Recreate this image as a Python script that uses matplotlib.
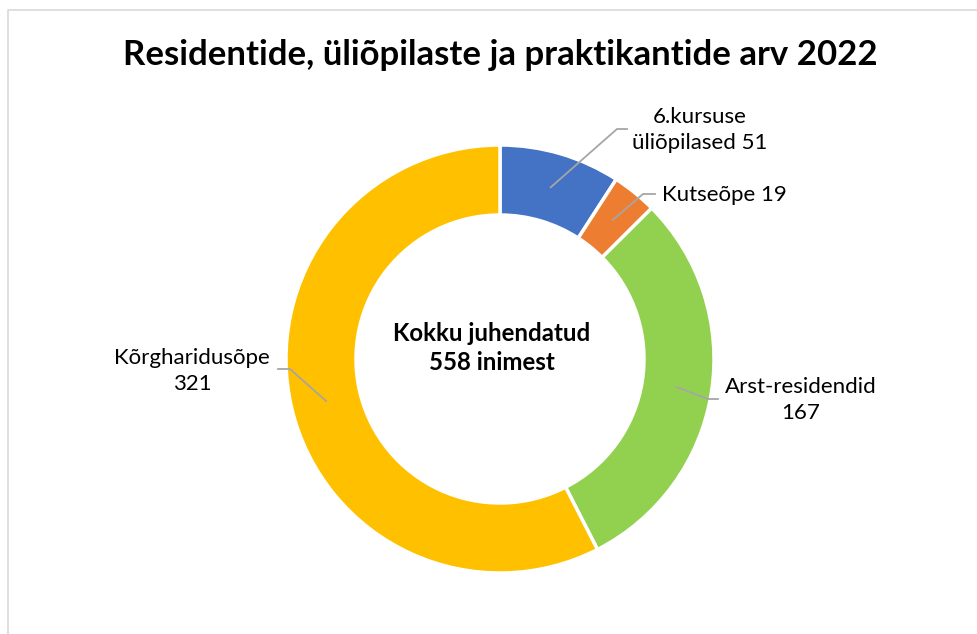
import numpy as np
import matplotlib.pyplot as plt
from matplotlib.lines import Line2D

plt.rcParams['font.family'] = ['Lato', 'DejaVu Sans']

labels = ['6.kursuse\nüliõpilased 51', 'Kutseõpe 19', 'Arst-residendid\n167', 'Kõrgharidusõpe\n321']
values = [51, 19, 167, 321]
colors = ['#4472C4', '#ED7D31', '#92D050', '#FFC000']
title = 'Residentide, üliõpilaste ja praktikantide arv 2022'
center_text = 'Kokku juhendatud\n558 inimest'

W, H = 977, 634
fig = plt.figure(figsize=(W / 100, H / 100), dpi=100)
ax = fig.add_axes([0, 0, 1, 1])

cx, cy = 500, H - 359
R = 214
width = 70

wedges, _ = ax.pie(values, colors=colors, startangle=90, counterclock=False,
                   center=(cx, cy), radius=R, frame=True,
                   wedgeprops=dict(width=width, edgecolor='white', linewidth=2.5))
ax.set_xlim(0, W)
ax.set_ylim(0, H)
ax.set_aspect('equal')
ax.axis('off')

# label text positions (pixel coords from top) and leader elbow points
text_pos = [(700, 130), (724, 195), (801, 400), (192, 371)]
elbows = [((617, 129), (627, 129)), ((643, 194), (655, 194)),
          ((708, 399), (718, 399)), ((290, 369), (278, 369))]

rmid = R - width / 2
for w, lab, (tx, ty), (e1, e2) in zip(wedges, labels, text_pos, elbows):
    ang = np.deg2rad((w.theta1 + w.theta2) / 2)
    px, py = cx + rmid * np.cos(ang), cy + rmid * np.sin(ang)
    ax.add_line(Line2D([px, e1[0], e2[0]], [py, H - e1[1], H - e2[1]],
                       color='#A6A6A6', lw=1.3))
    ax.text(tx, H - ty, lab, ha='center', va='center', fontsize=16,
            color='#000000', linespacing=1.4)

ax.text(cx - 8, H - 348, center_text, ha='center', va='center', fontsize=17.3,
        fontweight='bold', linespacing=1.3)

ax.text(500, H - 55, title, ha='center', va='center', fontsize=25,
        fontweight='bold')

# chart border
ax.add_line(Line2D([8, 8, W], [0, H - 10, H - 10], color='#D9D9D9', lw=1.2))

fig.savefig('out.png', dpi=100, facecolor='white')
